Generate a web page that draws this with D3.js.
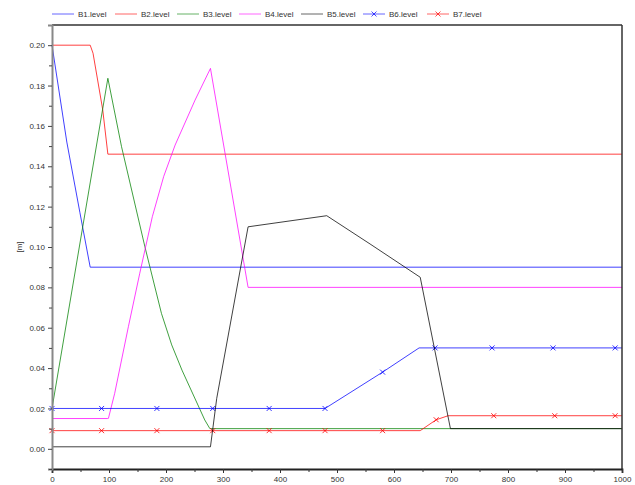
<!DOCTYPE html>
<html><head><meta charset="utf-8">
<script src="https://cdn.jsdelivr.net/npm/d3@7"></script>
<style>body{margin:0;background:#fff}svg{display:block}text{font-family:"Liberation Sans",Arial,sans-serif}</style>
</head><body>
<svg id="c" width="635" height="485"></svg>
<script>
const names = ["B1.level","B2.level","B3.level","B4.level","B5.level","B6.level","B7.level"];
const colors = ["#0000ff","#ff0000","#008000","#ff00ff","#000000","#0000ff","#ff0000"];
const B1 = [[0,0.200],[26,0.152],[49,0.117],[67,0.090],[1000,0.090]];
const B2 = [[0,0.200],[67,0.200],[72,0.196],[89,0.168],[98,0.146],[1000,0.146]];
const B3 = [[0,0.020],[98,0.1836],[122,0.1497],[163,0.1001],[192,0.0671],[210,0.0515],[228,0.039],[268,0.0143],[277,0.010],[1000,0.010]];
const B4 = [[0,0.0150],[97,0.0150],[99,0.0151],[110,0.0275],[134,0.0605],[154,0.087],[176,0.115],[196,0.135],[216,0.1505],[251,0.1728],[278,0.1885],[344,0.080],[1000,0.080]];
const B5 = [[0,0.001],[278,0.001],[289,0.025],[344,0.110],[482,0.1155],[558,0.1015],[646,0.085],[699,0.010],[1000,0.010]];
const B6 = [[0,0.020],[479,0.020],[580,0.038],[644,0.050],[1000,0.050]];
const B7 = [[0,0.009],[646,0.009],[674,0.0144],[695,0.0164],[1000,0.0164]];
const B6marks = [[0,0.020],[87,0.020],[184,0.020],[282,0.020],[381,0.020],[479,0.020],[580,0.038],[672,0.050],[772,0.050],[879,0.050],[988,0.050]];
const B7marks = [[0,0.009],[87,0.009],[184,0.009],[282,0.009],[381,0.009],[479,0.009],[580,0.009],[674,0.0144],[775,0.0164],[882,0.0164],[988,0.0164]];
const xTicks = [0,100,200,300,400,500,600,700,800,900,1000];
const xMinor = [50,150,250,350,450,550,650,750,850,950];
const yTicks = [0.00,0.02,0.04,0.06,0.08,0.10,0.12,0.14,0.16,0.18,0.20];
const yMinor = [-0.01,0.01,0.03,0.05,0.07,0.09,0.11,0.13,0.15,0.17,0.19];
const yLabel = "[m]";

const series = [B1,B2,B3,B4,B5,B6,B7];
const marks = [null,null,null,null,null,B6marks,B7marks];

const svg = d3.select("#c");
const L=52,R=622,T=25,Bm=469;
const x = d3.scaleLinear().domain([0,1000]).range([L,R]);
const y = d3.scaleLinear().domain([-0.01,0.21]).range([Bm,T]);

const line = d3.line().x(d=>x(d[0])).y(d=>y(d[1]));
const order = [0,1,2,3,5,6,4];
order.forEach(i=>{
  svg.append("path").attr("d",line(series[i])).attr("fill","none")
    .attr("stroke",colors[i]).attr("stroke-width",1).attr("stroke-opacity",0.75);
  if(marks[i]){
    marks[i].forEach(p=>{
      const cx=x(p[0]), cy=y(p[1]), s=2.5;
      svg.append("path").attr("d",`M${cx-s},${cy-s}L${cx+s},${cy+s}M${cx-s},${cy+s}L${cx+s},${cy-s}`)
        .attr("stroke",colors[i]).attr("stroke-width",1).attr("stroke-opacity",0.8);
    });
  }
});

svg.append("line").attr("x1",L).attr("x2",R).attr("y1",T).attr("y2",T).attr("stroke","#333").attr("stroke-width",1.5);
svg.append("line").attr("x1",R).attr("x2",R).attr("y1",T).attr("y2",Bm).attr("stroke","#333").attr("stroke-width",1.5);

const xAxis = d3.axisBottom(x).tickValues(xTicks).tickSize(4).tickPadding(3).tickFormat(d3.format("d"));
const gx = svg.append("g").attr("transform",`translate(0,${Bm})`).call(xAxis);
gx.select(".domain").attr("stroke","#222").attr("stroke-width",1.8);
gx.selectAll(".tick line").attr("stroke","#333");
gx.selectAll("text").attr("font-size",8).attr("fill","#333");
const gxm = svg.append("g").attr("transform",`translate(0,${Bm})`).call(d3.axisBottom(x).tickValues(xMinor).tickSize(3).tickFormat(""));
gxm.select(".domain").remove(); gxm.selectAll(".tick line").attr("stroke","#333");

const yAxis = d3.axisLeft(y).tickValues(yTicks).tickSize(4).tickPadding(3).tickFormat(d3.format(".2f"));
const gy = svg.append("g").attr("transform",`translate(${L},0)`).call(yAxis);
gy.select(".domain").attr("stroke","#888").attr("stroke-width",2);
gy.selectAll(".tick line").attr("stroke","#444");
gy.selectAll("text").attr("font-size",8).attr("fill","#333");
const gym = svg.append("g").attr("transform",`translate(${L},0)`).call(d3.axisLeft(y).tickValues(yMinor).tickSize(3).tickFormat(""));
gym.select(".domain").remove(); gym.selectAll(".tick line").attr("stroke","#444");

svg.append("text").attr("transform",`translate(22,${y(0.10)}) rotate(-90)`).attr("text-anchor","middle")
  .attr("font-size",8).attr("fill","#333").text(yLabel);

const legX = [52,115,177,239,301,363,427];
names.forEach((n,i)=>{
  const lx=legX[i], ly=14;
  svg.append("line").attr("x1",lx).attr("x2",lx+22).attr("y1",ly).attr("y2",ly)
    .attr("stroke",colors[i]).attr("stroke-width",1).attr("stroke-opacity",0.6);
  if(marks[i]){
    const cx=lx+11,s=2.5;
    svg.append("path").attr("d",`M${cx-s},${ly-s}L${cx+s},${ly+s}M${cx-s},${ly+s}L${cx+s},${ly-s}`)
      .attr("stroke",colors[i]).attr("stroke-width",1).attr("stroke-opacity",0.7);
  }
  svg.append("text").attr("x",lx+26).attr("y",ly+3).attr("font-size",8).attr("fill","#333").text(n);
});
</script>
</body></html>
